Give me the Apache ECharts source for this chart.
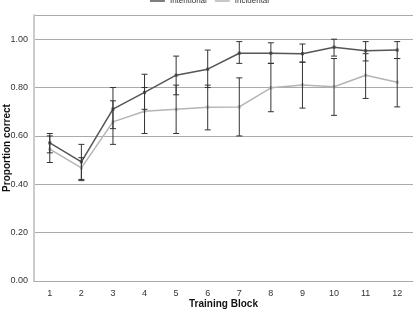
<!DOCTYPE html>
<html>
<head>
<meta charset="utf-8">
<script src="https://cdn.jsdelivr.net/npm/echarts@6/dist/echarts.min.js"></script>
<style>
html, body { margin: 0; padding: 0; background: #fff; }
#main { width: 419px; height: 312px; }
</style>
</head>
<body>
<div id="main"></div>
<script>
var blocks = ['1', '2', '3', '4', '5', '6', '7', '8', '9', '10', '11', '12'];
// 平均值
var intentional = [0.571, 0.493, 0.711, 0.78, 0.851, 0.876, 0.942, 0.942, 0.94, 0.967, 0.952, 0.955];
var incidental = [0.545, 0.468, 0.658, 0.702, 0.71, 0.719, 0.72, 0.799, 0.811, 0.803, 0.851, 0.822];
// 误差线 低/高
var intentionalLow = [0.53, 0.42, 0.63, 0.71, 0.77, 0.80, 0.90, 0.90, 0.905, 0.93, 0.91, 0.92];
var intentionalHigh = [0.61, 0.565, 0.80, 0.855, 0.93, 0.955, 0.99, 0.985, 0.98, 1.0, 0.99, 0.99];
var incidentalLow = [0.49, 0.415, 0.565, 0.61, 0.61, 0.625, 0.60, 0.70, 0.715, 0.685, 0.755, 0.72];
var incidentalHigh = [0.60, 0.51, 0.745, 0.80, 0.81, 0.81, 0.84, 0.90, 0.905, 0.92, 0.94, 0.92];
var yTicks = ['0.00', '0.20', '0.40', '0.60', '0.80', '1.00'];

var myChart = echarts.init(document.getElementById('main'));

function errData(low, high) {
    return blocks.map(function (b, i) {
        return [i, low[i], high[i]];
    });
}

function errBar(params, api) {
    var x = api.value(0);
    var lo = api.coord([x, api.value(1)]);
    var hi = api.coord([x, api.value(2)]);
    var w = 3;
    var st = { stroke: '#333', lineWidth: 1 };
    return {
        type: 'group',
        children: [
            { type: 'line', shape: { x1: hi[0], y1: hi[1], x2: lo[0], y2: lo[1] }, style: st },
            { type: 'line', shape: { x1: hi[0] - w, y1: hi[1], x2: hi[0] + w, y2: hi[1] }, style: st },
            { type: 'line', shape: { x1: lo[0] - w, y1: lo[1], x2: lo[0] + w, y2: lo[1] }, style: st }
        ]
    };
}

var option = {
    animation: false,
    legend: {
        top: -8,
        left: 'center',
        icon: 'rect',
        itemWidth: 15,
        itemHeight: 1.5,
        itemGap: 8,
        textStyle: { fontSize: 8, color: '#333', fontFamily: 'Liberation Sans' },
        data: ['Intentional', 'Incidental']
    },
    grid: { left: 34, right: 6, top: 15, bottom: 31, containLabel: false, outerBoundsMode: 'none' },
    xAxis: {
        type: 'category',
        data: blocks,
        boundaryGap: true,
        name: 'Training Block',
        nameLocation: 'middle',
        nameGap: 18,
        nameMoveOverlap: false,
        nameTextStyle: { fontSize: 10, fontWeight: 'bold', color: '#111', fontFamily: 'Liberation Sans' },
        axisLine: { show: true, lineStyle: { color: '#aaa', width: 1 } },
        axisTick: { show: false },
        axisLabel: { fontSize: 9, color: '#333', margin: 8, fontFamily: 'Liberation Sans' }
    },
    yAxis: {
        type: 'value',
        min: 0,
        max: 1.1,
        interval: 0.2,
        name: 'Proportion correct',
        nameLocation: 'middle',
        nameGap: 22,
        nameMoveOverlap: false,
        nameTextStyle: { fontSize: 10, fontWeight: 'bold', color: '#111', fontFamily: 'Liberation Sans' },
        axisLine: { show: true, lineStyle: { color: '#ccc', width: 2 } },
        axisTick: { show: false },
        splitLine: { lineStyle: { color: '#aaa', width: 1 } },
        axisLabel: {
            fontSize: 9, color: '#333', margin: 6, fontFamily: 'Liberation Sans',
            formatter: function (v) {
                var i = Math.round(v / 0.2);
                return Math.abs(v - i * 0.2) < 1e-6 ? yTicks[i] : '';
            }
        }
    },
    series: [{
        name: 'Intentional',
        type: 'line',
        data: intentional,
        symbol: 'rect',
        symbolSize: 3,
        itemStyle: { color: '#555' },
        lineStyle: { color: '#555', width: 1.5 },
        z: 3
    }, {
        name: 'Incidental',
        type: 'line',
        data: incidental,
        symbol: 'rect',
        symbolSize: 3,
        itemStyle: { color: '#b5b5b5' },
        lineStyle: { color: '#b5b5b5', width: 1.5 },
        z: 2
    }, {
        type: 'custom',
        renderItem: errBar,
        data: errData(intentionalLow, intentionalHigh),
        encode: { x: 0, y: [1, 2] },
        z: 4
    }, {
        type: 'custom',
        renderItem: errBar,
        data: errData(incidentalLow, incidentalHigh),
        encode: { x: 0, y: [1, 2] },
        z: 4
    }]
};
myChart.setOption(option);
</script>
</body>
</html>
